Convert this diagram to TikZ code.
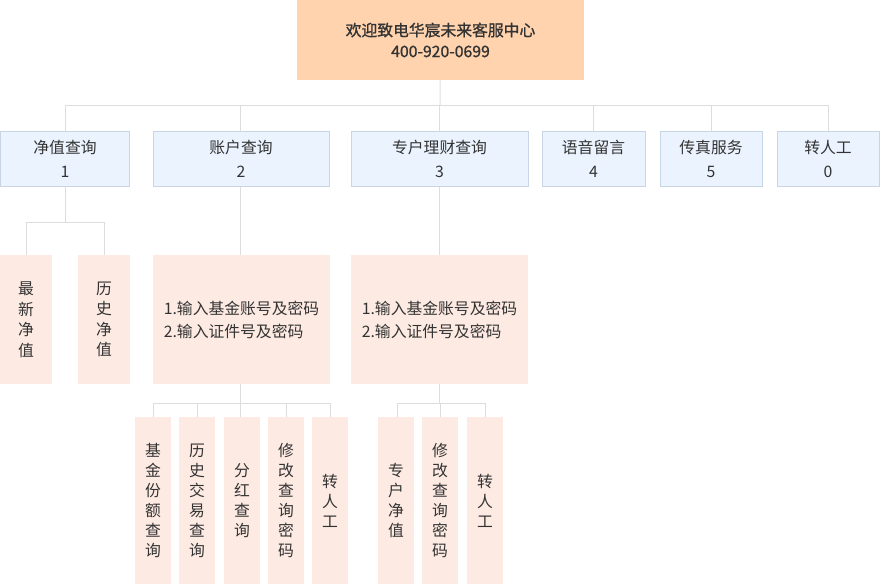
\documentclass[tikz,border=0pt]{standalone}
\usepackage{fontspec}
\newfontfamily\cjk{Noto Sans CJK SC}
\newfontfamily\cjkhead[FakeBold=1.2]{Noto Sans CJK SC}
\definecolor{headfill}{HTML}{FFD3AD}
\definecolor{menufill}{HTML}{EBF3FE}
\definecolor{menuline}{HTML}{C8D5E5}
\definecolor{leaffill}{HTML}{FDEBE3}
\definecolor{wirecol}{HTML}{DDDDDD}
\definecolor{inkcol}{HTML}{333333}

\begin{document}
\begin{tikzpicture}[x=1pt, y=-1pt,
    head/.style={fill=headfill, text=inkcol, align=center, inner sep=0pt,
        font=\cjkhead\fontsize{15.8}{21}\selectfont,
        minimum width=287pt, minimum height=80pt},
    menu/.style={fill=menufill, draw=menuline, line width=1pt, text=inkcol,
        align=center, inner sep=0pt, font=\cjk\fontsize{15.8}{24}\selectfont,
        minimum height=55pt},
    leaf/.style={fill=leaffill, text=inkcol, inner sep=0pt,
        font=\cjk\fontsize{15.8}{20.5}\selectfont, minimum height=129pt},
    column/.style={fill=leaffill, text=inkcol, align=center, inner sep=0pt,
        font=\cjk\fontsize{15.8}{20}\selectfont,
        minimum width=36pt, minimum height=167pt},
    wire/.style={draw=wirecol, line width=1pt}]

    \useasboundingbox (0,0) rectangle (880,584);

    % Draw the hotline box at the top
    \node[head] (hotline) at (440.5,40) {欢迎致电华宸未来客服中心\\400-920-0699};

    % Draw the main menu (light blue)
    \node[menu, minimum width=129pt] (navq) at (65,159) {净值查询\\1};
    \node[menu, minimum width=176pt] (acctq) at (241,159) {账户查询\\2};
    \node[menu, minimum width=177pt] (specq) at (439.5,159) {专户理财查询\\3};
    \node[menu, minimum width=103pt] (voice) at (593.5,159) {语音留言\\4};
    \node[menu, minimum width=102pt] (fax) at (711,159) {传真服务\\5};
    \node[menu, minimum width=102pt] (agent) at (828,159) {转人工\\0};

    % Draw the second level (light peach)
    \node[leaf, align=center, minimum width=52pt] (latestnav) at (26,319.5) {最\\新\\净\\值};
    \node[leaf, align=center, minimum width=52pt] (histnav) at (104,319.5) {历\\史\\净\\值};
    \node[leaf, align=left, minimum width=177pt, font=\cjk\fontsize{15.8}{23}\selectfont]
        (acctlogin) at (241.5,319.5) {1.输入基金账号及密码\\2.输入证件号及密码};
    \node[leaf, align=left, minimum width=177pt, font=\cjk\fontsize{15.8}{23}\selectfont]
        (speclogin) at (439.5,319.5) {1.输入基金账号及密码\\2.输入证件号及密码};

    % Draw the account items
    \node[column] (share) at (153,500.5) {基\\金\\份\\额\\查\\询};
    \node[column] (trade) at (197,500.5) {历\\史\\交\\易\\查\\询};
    \node[column] (bonus) at (242,500.5) {分\\红\\查\\询};
    \node[column] (pwda) at (286,500.5) {修\\改\\查\\询\\密\\码};
    \node[column] (agenta) at (330,500.5) {转\\人\\工};

    % Draw the special account items
    \node[column] (specnav) at (396,500.5) {专\\户\\净\\值};
    \node[column] (pwdb) at (440,500.5) {修\\改\\查\\询\\密\\码};
    \node[column] (agentb) at (485,500.5) {转\\人\\工};

    % Draw the bus points
    \coordinate (busa) at (440,105);
    \coordinate (busb) at (65,222);
    \coordinate (busc) at (240,403);
    \coordinate (busd) at (439.5,403);

    % Draw the connectors
    \draw[wire] (hotline) -- (busa);
    \draw[wire] (busa) -| (navq.north);
    \draw[wire] (busa) -| ([xshift=-1pt]acctq.north);
    \draw[wire] (busa) -| (specq.north);
    \draw[wire] (busa) -| (voice.north);
    \draw[wire] (busa) -| (fax.north);
    \draw[wire] (busa) -| (agent.north);

    \draw[wire] (navq) -- (busb);
    \draw[wire] (busb) -| (latestnav.north);
    \draw[wire] (busb) -| (histnav.north);
    \draw[wire] ([xshift=-1pt]acctq.south) -- ([xshift=-1.5pt]acctlogin.north);
    \draw[wire] (specq) -- (speclogin);

    \draw[wire] ([xshift=-1.5pt]acctlogin.south) -- (busc);
    \draw[wire] (busc) -| (share.north);
    \draw[wire] (busc) -| (trade.north);
    \draw[wire] (busc) -| ([xshift=-2pt]bonus.north);
    \draw[wire] (busc) -| (pwda.north);
    \draw[wire] (busc) -| (agenta.north);

    \draw[wire] (speclogin) -- (busd);
    \draw[wire] (busd) -| ([xshift=1pt]specnav.north);
    \draw[wire] (busd) -| (pwdb.north);
    \draw[wire] (busd) -| (agentb.north);

\end{tikzpicture}
\end{document}
